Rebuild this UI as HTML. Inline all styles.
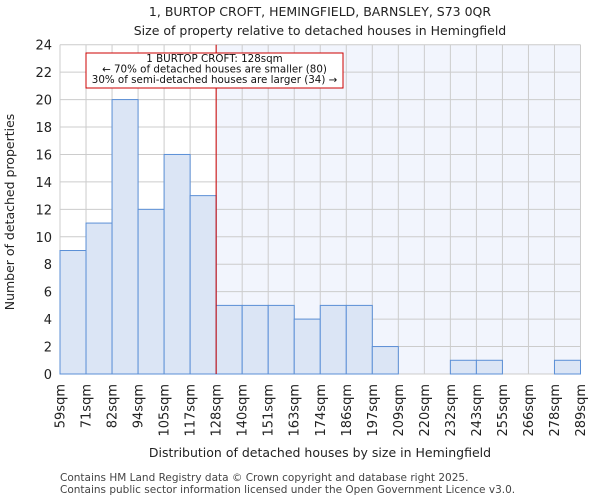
<!DOCTYPE html>
<html><head><meta charset="utf-8"><style>
body{margin:0;background:#fff;font-family:"DejaVu Sans","Liberation Sans",sans-serif}
</style></head><body>
<svg id="chart" width="600" height="500" xmlns="http://www.w3.org/2000/svg" font-family="DejaVu Sans, Liberation Sans, sans-serif">
<text x="320" y="16" font-size="12.5" text-anchor="middle" fill="#222">1, BURTOP CROFT, HEMINGFIELD, BARNSLEY, S73 0QR</text>
<text x="320" y="35" font-size="12.5" text-anchor="middle" fill="#222">Size of property relative to detached houses in Hemingfield</text>
<g id="plot"></g>
<text transform="translate(14,212) rotate(-90)" font-size="12.5" text-anchor="middle" fill="#222">Number of detached properties</text>
<text x="320" y="457" font-size="12.5" text-anchor="middle" fill="#222">Distribution of detached houses by size in Hemingfield</text>
<text x="60" y="481" font-size="10.5" fill="#444">Contains HM Land Registry data © Crown copyright and database right 2025.</text>
<text x="60" y="493" font-size="10.5" fill="#444">Contains public sector information licensed under the Open Government Licence v3.0.</text>
</svg>
<script>
const binLabels=["59sqm","71sqm","82sqm","94sqm","105sqm","117sqm","128sqm","140sqm","151sqm","163sqm","174sqm","186sqm","197sqm","209sqm","220sqm","232sqm","243sqm","255sqm","266sqm","278sqm","289sqm"];
const counts=[9,11,20,12,16,13,5,5,5,4,5,5,2,0,0,1,1,0,0,1];
const yTicks=[0,2,4,6,8,10,12,14,16,18,20,22,24];
const markerBin=6;
const annotationLines=["1 BURTOP CROFT: 128sqm","← 70% of detached houses are smaller (80)","30% of semi-detached houses are larger (34) →"];
const NS="http://www.w3.org/2000/svg";
const L=60,R=580.5,T=44.7,B=374,yMax=24;
const nb=counts.length,bw=(R-L)/nb;
const xs=i=>L+i*bw, ys=v=>B-(v/yMax)*(B-T);
const g=document.getElementById('plot');
function mk(tag,attrs,parent){const e=document.createElementNS(NS,tag);for(const k in attrs)e.setAttribute(k,attrs[k]);(parent||g).appendChild(e);return e;}
let e;
e=mk('rect',{x:xs(markerBin),y:T,width:R-xs(markerBin),height:B-T,fill:'#f2f5fd'});


for(let i=0;i<=nb;i++){e=mk('line',{x1:xs(i),x2:xs(i),y1:T,y2:B,stroke:'#cccccc','stroke-width':1});

}
yTicks.forEach(v=>{e=mk('line',{x1:L,x2:R,y1:ys(v),y2:ys(v),stroke:'#cccccc','stroke-width':1});


e=mk('text',{x:L-8,y:ys(v)+5,'font-size':13,'text-anchor':'end',fill:'#222'});e.textContent=v;

});
counts.forEach((c,i)=>{if(c<=0)return;e=mk('rect',{x:xs(i),y:ys(c),width:bw,height:B-ys(c),fill:'#dbe5f5',stroke:'#5b8fd6','stroke-width':1});

});
binLabels.forEach((lab,i)=>{const x=xs(i)+4.5;e=mk('text',{transform:`translate(${x},${B+10}) rotate(-90)`,'font-size':13,'text-anchor':'end',fill:'#222'});e.textContent=lab;

});
e=mk('line',{x1:xs(markerBin),x2:xs(markerBin),y1:T,y2:B,stroke:'#cc0000','stroke-width':1});


e=mk('rect',{x:86,y:53,width:257,height:35,fill:'#fff',stroke:'#cc0000','stroke-width':1});


annotationLines.forEach((t,k)=>{e=mk('text',{x:214.5,y:62+k*10.5,'font-size':10.3,'text-anchor':'middle',fill:'#111'});e.textContent=t;

});
</script>
</body></html>
